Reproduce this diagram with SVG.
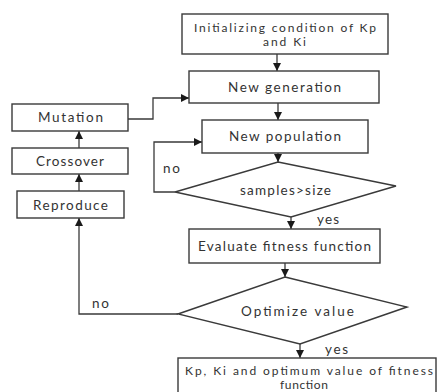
<svg xmlns="http://www.w3.org/2000/svg" width="437" height="392" viewBox="0 0 437 392">
<defs>
<marker id="ah" viewBox="0 0 10 10" refX="10" refY="5" markerWidth="8" markerHeight="8" markerUnits="userSpaceOnUse" orient="auto">
<path d="M0,0 L10,5 L0,10 z" fill="#1a1a1a"/>
</marker>
</defs>
<style>
.b{fill:#fff;stroke:#3a3a3a;stroke-width:1.4}
.t{font-family:Lato,"Open Sans",sans-serif;font-size:13.5px;fill:#333;text-anchor:middle}
.s{font-size:12px}
.c{fill:none;stroke:#3a3a3a;stroke-width:1.3;marker-end:url(#ah)}
</style>
<rect width="437" height="392" fill="#fff"/>
<g id="connectors">
<path class="c" d="M277,54 V71"/>
<path class="c" d="M278,103 V120"/>
<path class="c" d="M278,153 V162"/>
<path class="c" d="M175,192 H154 V142 H202"/>
<path class="c" d="M291,217 V229"/>
<path class="c" d="M285,263 V277"/>
<path class="c" d="M178,314 H79 V218"/>
<path class="c" d="M300,344 V358"/>
<path class="c" d="M79,191 V174"/>
<path class="c" d="M79,148 V131"/>
<path class="c" d="M128,119 H153 V98 H189"/>
</g>
<g id="init">
<rect class="b" x="182" y="14" width="206" height="40"/>
<text class="t s"><tspan x="285" y="31.5" textLength="182" lengthAdjust="spacing">Initializing condition of Kp</tspan><tspan x="284.5" y="46" textLength="43" lengthAdjust="spacing">and Ki</tspan></text>
</g>
<g id="newgen">
<rect class="b" x="189" y="71" width="190" height="32"/>
<text class="t" x="284.5" y="92" textLength="113" lengthAdjust="spacing">New generation</text>
</g>
<g id="newpop">
<rect class="b" x="202" y="120" width="166" height="33"/>
<text class="t" x="285" y="141" textLength="112" lengthAdjust="spacing">New population</text>
</g>
<g id="samples">
<polygon class="b" points="278,162 396,186 291,217 175,192"/>
<text class="t" x="285.5" y="195" textLength="91" lengthAdjust="spacing">samples&gt;size</text>
</g>
<g id="evaluate">
<rect class="b" x="189" y="229" width="191" height="34"/>
<text class="t" x="284.5" y="251" textLength="173" lengthAdjust="spacing">Evaluate fitness function</text>
</g>
<g id="optimize">
<polygon class="b" points="285,277 407,307 300,344 178,314"/>
<text class="t" x="297.5" y="316" textLength="113" lengthAdjust="spacing">Optimize value</text>
</g>
<g id="result">
<rect class="b" x="178" y="358" width="258" height="40"/>
<text class="t s"><tspan x="309" y="374.5" textLength="248" lengthAdjust="spacing">Kp, Ki and optimum value of fitness</tspan><tspan x="304" y="389" textLength="48" lengthAdjust="spacing">function</tspan></text>
</g>
<g id="mutation">
<rect class="b" x="12" y="104" width="116" height="27"/>
<text class="t" x="70.5" y="122" textLength="65" lengthAdjust="spacing">Mutation</text>
</g>
<g id="crossover">
<rect class="b" x="12" y="148" width="116" height="26"/>
<text class="t" x="70" y="166" textLength="68" lengthAdjust="spacing">Crossover</text>
</g>
<g id="reproduce">
<rect class="b" x="17" y="191" width="107" height="27"/>
<text class="t" x="70.5" y="210" textLength="75" lengthAdjust="spacing">Reproduce</text>
</g>
<g id="labels">
<text class="t" x="171.5" y="172.5" textLength="17" lengthAdjust="spacing">no</text>
<text class="t" x="328" y="223.5" textLength="22" lengthAdjust="spacing">yes</text>
<text class="t" x="100.5" y="307.5" textLength="17" lengthAdjust="spacing">no</text>
<text class="t" x="336.5" y="353.5" textLength="23" lengthAdjust="spacing">yes</text>
</g>
</svg>
